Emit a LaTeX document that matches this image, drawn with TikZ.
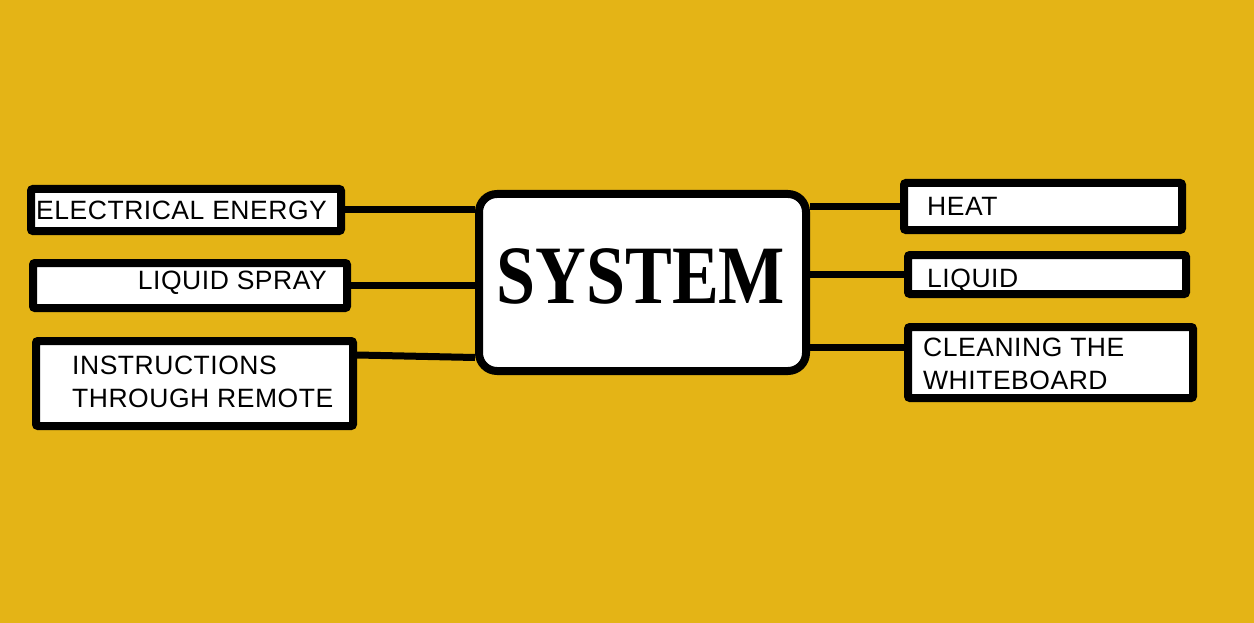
\documentclass[tikz,border=0pt]{standalone}
\usepackage{fontspec}
\setmainfont[LetterSpace=2]{Liberation Sans}
\newfontfamily\sysfont{Liberation Serif}
\definecolor{bgyellow}{RGB}{228,180,22}
\tikzset{
  box/.style={draw=black, fill=white, line width=8pt, rounded corners=2pt, inner sep=0pt},
  sysbox/.style={draw=black, fill=white, line width=8pt, rounded corners=18pt, inner sep=0pt},
  label/.style={inner sep=0pt, font=\fontsize{26.5}{32}\selectfont, text=black},
  link/.style={draw=black, line width=7pt}
}
\begin{document}
\begin{tikzpicture}[x=1pt,y=-1pt]
\fill[bgyellow] (0,0) rectangle (1254,623);
\useasboundingbox (0,0) rectangle (1254,623);
% boxes
\node[box, minimum width=310pt, minimum height=42pt] (elec) at (186,210) {};
\node[box, minimum width=314pt, minimum height=45pt] (spray) at (190,285.5) {};
\node[box, minimum width=317pt, minimum height=85pt] (instr) at (194.5,383.5) {};
\node[sysbox, minimum width=327pt, minimum height=177pt] (sys) at (642.5,282.5) {};
\node[box, minimum width=278pt, minimum height=47pt] (heat) at (1043,206.5) {};
\node[box, minimum width=278pt, minimum height=39pt] (liq) at (1047,274.5) {};
\node[box, minimum width=285pt, minimum height=71pt] (clean) at (1050.5,362.5) {};
% connectors
\draw[link] (elec.east) -- (sys.west |- elec.east);
\draw[link] (spray.east) -- (sys.west |- spray.east);
\draw[link] ([yshift=28.5pt]instr.east) -- ([yshift=26pt]sys.west |- instr.east);
\draw[link] (sys.east |- heat.west) -- (heat.west);
\draw[link] (sys.east |- liq.west) -- (liq.west);
\draw[link] ([yshift=15.5pt]sys.east |- clean.west) -- ([yshift=15.5pt]clean.west);
% texts
\node[label, anchor=base west] (telec) at (36,219) {ELECTRICAL ENERGY};
\node[label, anchor=base east] (tspray) at (327,289) {LIQUID SPRAY};
\node[label, anchor=base west, align=left] (tinstr) at (72,407) {INSTRUCTIONS\\[1pt]THROUGH REMOTE};
\node[label, anchor=base west] (theat) at (927,215) {HEAT};
\node[label, anchor=base west] (tliq) at (927,287) {LIQUID};
\node[label, anchor=base west, align=left] (tclean) at (923,389) {CLEANING THE\\[1pt]WHITEBOARD};
\node[inner sep=0pt] (tsys) at (641,276) {\scalebox{0.845}[1]{\sysfont\bfseries\fontsize{83}{90}\selectfont SYSTEM}};
\end{tikzpicture}
\end{document}
